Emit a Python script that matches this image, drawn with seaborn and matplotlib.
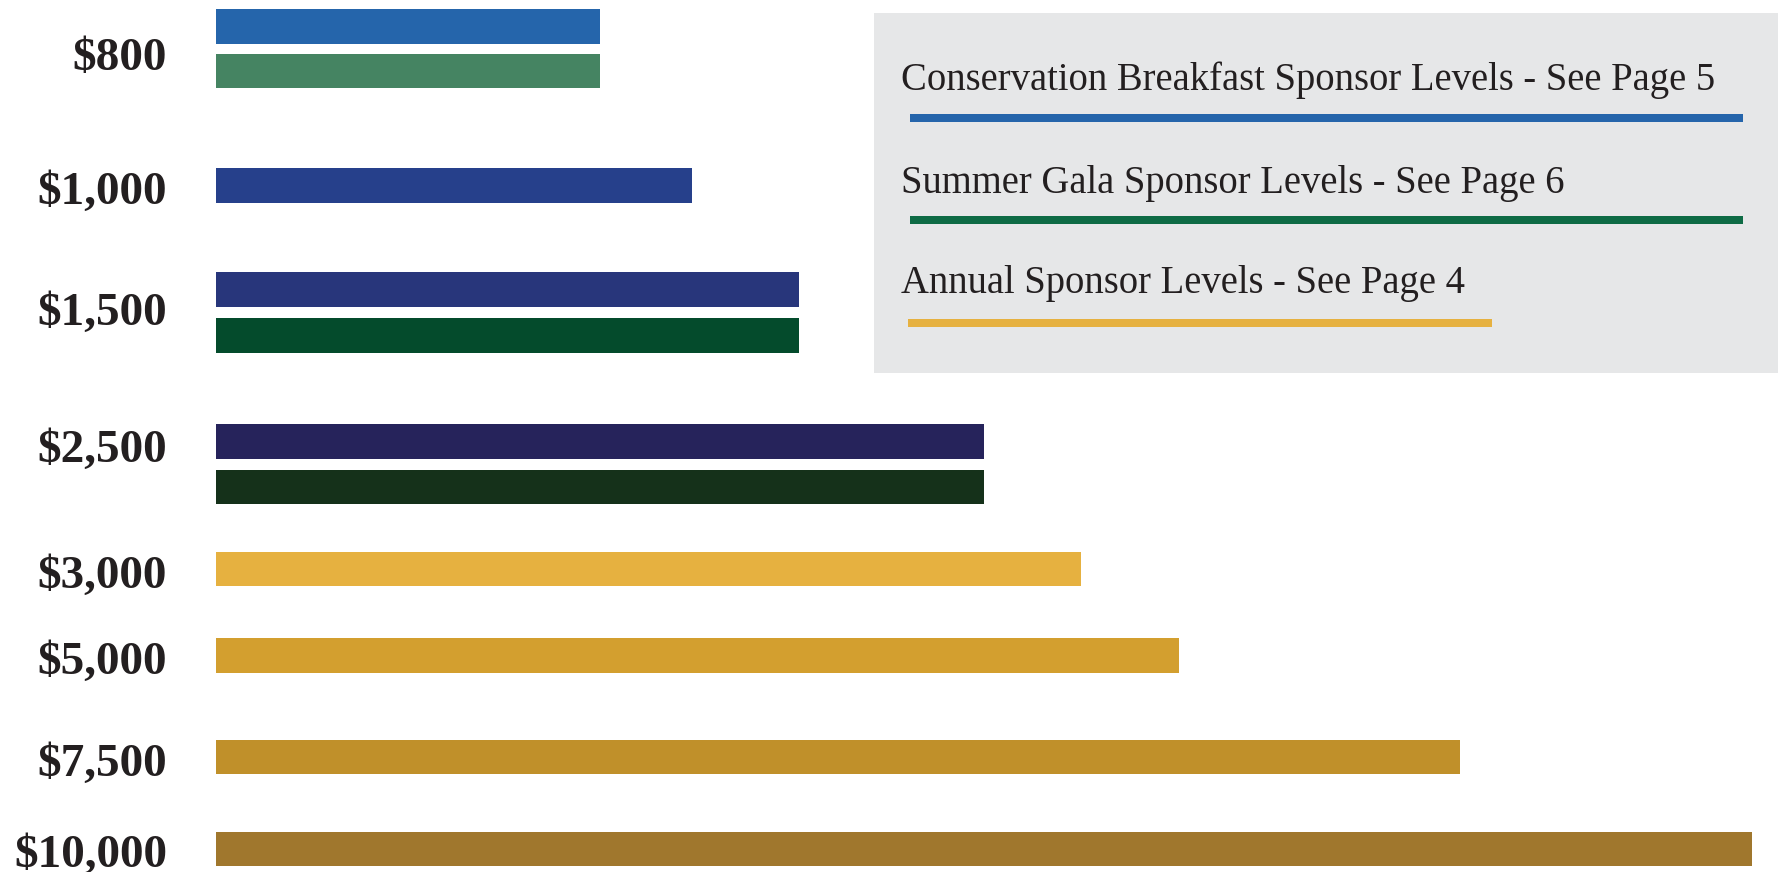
import numpy as np
import pandas as pd
import matplotlib.pyplot as plt
import seaborn as sns
from matplotlib.patches import Rectangle

# ---------------------------------------------------------
# data
# ---------------------------------------------------------
LEVELS = ["$800", "$800", "$1,000", "$1,500", "$1,500", "$2,500", "$2,500",
          "$3,000", "$5,000", "$7,500", "$10,000"]
PROGRAMS = ["Breakfast", "Gala", "Breakfast", "Breakfast", "Gala", "Breakfast", "Gala",
            "Annual", "Annual", "Annual", "Annual"]
# bar length, relative to the $10,000 bar (= 100)
BAR_LENGTH = [25, 25, 31, 38, 38, 50, 50, 56.3, 62.7, 81, 100]
BAR_COLORS = ["#2565AB", "#458462", "#26408B", "#28367B", "#044B2C", "#26235B",
              "#15311A", "#E6B140", "#D39F2F", "#C0902A", "#A0772D"]

LEGEND_LABELS = ["Conservation Breakfast Sponsor Levels - See Page 5",
                 "Summer Gala Sponsor Levels - See Page 6",
                 "Annual Sponsor Levels - See Page 4"]
LEGEND_COLORS = ["#2565AB", "#0E6B45", "#E6B140"]

# ---------------------------------------------------------
# layout (units = pixels of the 1778x872 output)
# ---------------------------------------------------------
W, H = 1778, 872
AX_LEFT = 215.5
BAR_END = 1752          # where a length of 100 ends
ROW_Y = [26.4, 71.0, 185.5, 289.5, 335.5, 441.3, 486.8, 568.8, 655.7, 757.1, 848.8]
BAR_H = 34.5
LABEL_Y = [54, 188, 309, 446, 572, 658, 760, 851]

LEG_BOX = (874, 12.7, W - 874, 373 - 12.7)
LEG_TEXT_X = 901
LEG_TEXT_Y = [90, 192.7, 293.3]
LEG_LINE_Y = [117.7, 220.3, 322.8]
LEG_LINE_X = [(910, 1743), (910, 1743), (908, 1492)]

TEXT_COLOR = "#231F20"

sns.set_theme(style="white")
plt.rcParams['font.family'] = ['Liberation Serif', 'DejaVu Serif']

df = pd.DataFrame({
    "level": LEVELS,
    "program": PROGRAMS,
    "length": BAR_LENGTH,
    "row": ROW_Y,
})
df["bar"] = [f"b{i}" for i in range(len(df))]
palette = dict(zip(df["bar"], BAR_COLORS))

fig = plt.figure(figsize=(W / 100, H / 100), dpi=100)
ax = fig.add_axes([AX_LEFT / W, 0, (W - AX_LEFT) / W, 1])

min_gap = np.diff(np.sort(ROW_Y)).min()
sns.barplot(
    data=df, x="length", y="row", orient="y", native_scale=True,
    hue="bar", palette=palette, saturation=1, legend=False, errorbar=None,
    width=BAR_H / min_gap, linewidth=0, ax=ax,
)

ax.set_xlim(0, 100 * (W - AX_LEFT) / (BAR_END - AX_LEFT))
ax.set_ylim(H, 0)
ax.set_xticks([])
ax.set_yticks(LABEL_Y)
ax.set_yticklabels(list(dict.fromkeys(LEVELS)), fontweight="bold",
                   fontsize=34, color=TEXT_COLOR)
ax.tick_params(axis="y", length=0, pad=35)
ax.set_xlabel("")
ax.set_ylabel("")
sns.despine(ax=ax, left=True, bottom=True)

# legend panel drawn on an overlay in pixel coordinates
lax = fig.add_axes([0, 0, 1, 1])
lax.set_xlim(0, W)
lax.set_ylim(H, 0)
lax.axis("off")
lax.patch.set_alpha(0)

lax.add_patch(Rectangle(LEG_BOX[:2], LEG_BOX[2], LEG_BOX[3],
                        facecolor="#E6E7E8", edgecolor="none"))
for label, color, ty, ly, (x0, x1) in zip(LEGEND_LABELS, LEGEND_COLORS,
                                           LEG_TEXT_Y, LEG_LINE_Y, LEG_LINE_X):
    lax.text(LEG_TEXT_X, ty, label, fontsize=27.8, color=TEXT_COLOR,
             ha="left", va="baseline")
    lax.plot([x0, x1], [ly, ly], color=color, linewidth=8 * 72 / 100,
             solid_capstyle="butt")

fig.savefig("out.png", dpi=100)
